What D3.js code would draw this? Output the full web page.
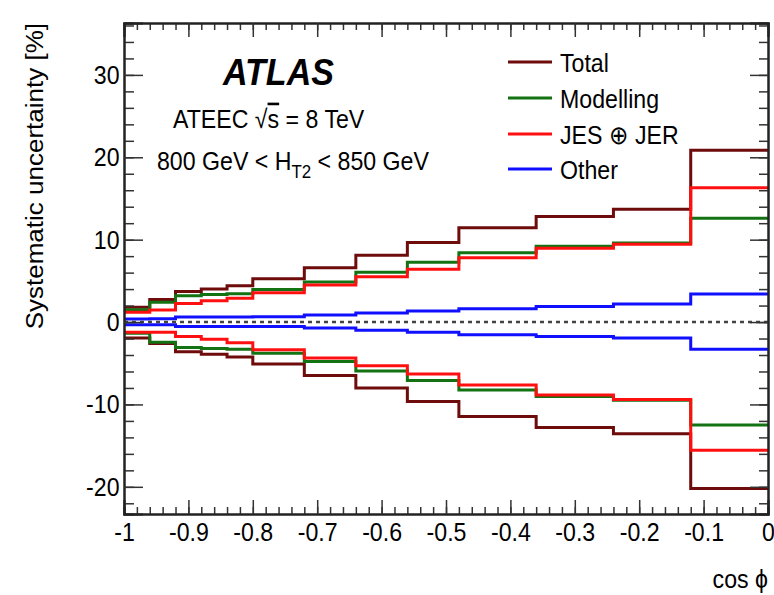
<!DOCTYPE html>
<html>
<head>
<meta charset="utf-8">
<script src="https://cdn.jsdelivr.net/npm/d3@7/dist/d3.min.js"></script>
<style>
  html, body { margin: 0; padding: 0; background: #fff; }
  svg { display: block; }
  text { font-family: "Liberation Sans", Arial, Helvetica, sans-serif; fill: #000; }
</style>
</head>
<body>
<svg id="chart" width="774" height="595"></svg>
<script>
// Bin edges in cos(phi)
const binEdges = [-1, -0.96, -0.92, -0.88, -0.84, -0.80, -0.72, -0.64, -0.56, -0.48, -0.36, -0.24, -0.12, 0];

// Relative systematic uncertainties [%] per bin (up / down variations)
const totalUp     = [1.8, 2.75, 3.7, 4.0, 4.4, 5.25, 6.6, 8.1, 9.65, 11.45, 12.8, 13.7, 20.85];
const totalDown   = [-1.95, -2.6, -3.6, -3.9, -4.25, -5.1, -6.5, -8.0, -9.65, -11.45, -12.8, -13.55, -20.2];
const modelUp     = [1.5, 2.4, 3.2, 3.35, 3.45, 3.95, 4.85, 6.05, 7.25, 8.4, 9.2, 9.6, 12.6];
const modelDown   = [-1.35, -2.45, -3.1, -3.2, -3.3, -3.8, -4.8, -5.95, -7.1, -8.25, -9.05, -9.5, -12.5];
const jesUp       = [1.2, 1.45, 2.25, 2.6, 2.9, 3.55, 4.5, 5.5, 6.4, 7.8, 8.95, 9.45, 16.3];
const jesDown     = [-1.25, -1.25, -1.75, -2.1, -2.5, -3.35, -4.35, -5.3, -6.3, -7.65, -8.85, -9.4, -15.55];
const otherUp     = [0.38, 0.4, 0.62, 0.62, 0.62, 0.65, 0.85, 1.1, 1.35, 1.62, 1.9, 2.2, 3.4];
const otherDown   = [-0.33, -0.33, -0.53, -0.53, -0.53, -0.55, -0.73, -1.0, -1.25, -1.55, -1.75, -1.95, -3.3];

const legendLabels = ["Total", "Modelling", "JES \u2295 JER", "Other"];
const seriesColors = ["#6e0b0b", "#137313", "#ff1010", "#1010ff"];

const xTicks = [-1, -0.9, -0.8, -0.7, -0.6, -0.5, -0.4, -0.3, -0.2, -0.1, 0];
const yTicks = [-20, -10, 0, 10, 20, 30];

const series = [
  { up: totalUp, down: totalDown, color: seriesColors[0] },
  { up: modelUp, down: modelDown, color: seriesColors[1] },
  { up: jesUp,   down: jesDown,   color: seriesColors[2] },
  { up: otherUp, down: otherDown, color: seriesColors[3] }
];

const svg = d3.select("#chart");
const frame = { left: 124, right: 768, top: 23, bottom: 514 };
const squeeze = 0.89;   // horizontal glyph compression of the text
const fs = 26;

const x = d3.scaleLinear().domain([-1, 0]).range([frame.left, frame.right]);
const y = d3.scaleLinear().domain([-23.3, 36.3]).range([frame.bottom, frame.top]);

// Plain hyphen-minus labels
const fmt = d => String(+(+d).toFixed(1));

// Step outline for one histogram
function stepPath(vals) {
  const pts = [];
  vals.forEach((v, i) => {
    pts.push([x(binEdges[i]), y(v)]);
    pts.push([x(binEdges[i + 1]), y(v)]);
  });
  return d3.line()(pts);
}

const plot = svg.append("g");
series.forEach(s => {
  [s.up, s.down].forEach(vals => {
    plot.append("path")
      .attr("d", stepPath(vals))
      .attr("fill", "none")
      .attr("stroke", s.color)
      .attr("stroke-width", 3)
      .attr("stroke-linejoin", "miter");
  });
});

// Dashed zero reference line
plot.append("line")
  .attr("x1", x(-1)).attr("x2", x(0))
  .attr("y1", y(0)).attr("y2", y(0))
  .attr("stroke", "#444")
  .attr("stroke-width", 2.5)
  .attr("stroke-dasharray", "4,4");

// Axes (ticks pointing inwards, on all four sides)
const xMinor = d3.range(0, 51).map(i => -1 + i * 0.02);
const yMinor = d3.range(-22, 37, 2);

function styleAxis(g) {
  g.select(".domain").attr("stroke", "#222").attr("stroke-width", 2);
  g.selectAll(".tick line").attr("stroke", "#333").attr("stroke-width", 1.5);
}

// bottom
svg.append("g").attr("transform", `translate(0,${frame.bottom})`)
  .call(d3.axisBottom(x).tickValues(xMinor).tickSize(-7).tickFormat(""))
  .call(styleAxis);
const xAxisG = svg.append("g").attr("transform", `translate(0,${frame.bottom})`)
  .call(d3.axisBottom(x).tickValues(xTicks).tickSize(-14).tickPadding(9).tickFormat(fmt))
  .call(styleAxis);
xAxisG.selectAll(".tick text")
  .attr("font-size", fs)
  .attr("transform", `scale(${squeeze},1)`);

// top
svg.append("g").attr("transform", `translate(0,${frame.top})`)
  .call(d3.axisTop(x).tickValues(xMinor).tickSize(-7).tickFormat(""))
  .call(styleAxis);
svg.append("g").attr("transform", `translate(0,${frame.top})`)
  .call(d3.axisTop(x).tickValues(xTicks).tickSize(-14).tickFormat(""))
  .call(styleAxis);

// left
svg.append("g").attr("transform", `translate(${frame.left},0)`)
  .call(d3.axisLeft(y).tickValues(yMinor).tickSize(-10).tickFormat(""))
  .call(styleAxis);
const yAxisG = svg.append("g").attr("transform", `translate(${frame.left},0)`)
  .call(d3.axisLeft(y).tickValues(yTicks).tickSize(-19).tickPadding(5).tickFormat(fmt))
  .call(styleAxis);
yAxisG.selectAll(".tick text")
  .attr("font-size", fs)
  .attr("transform", `scale(${squeeze},1)`);

// right
svg.append("g").attr("transform", `translate(${frame.right},0)`)
  .call(d3.axisRight(y).tickValues(yMinor).tickSize(-9).tickFormat(""))
  .call(styleAxis);
svg.append("g").attr("transform", `translate(${frame.right},0)`)
  .call(d3.axisRight(y).tickValues(yTicks).tickSize(-18).tickFormat(""))
  .call(styleAxis);

// Axis titles
svg.append("text")
  .attr("transform", `translate(43,${frame.top}) scale(${squeeze},1) rotate(-90)`)
  .attr("text-anchor", "end")
  .attr("font-size", fs)
  .text("Systematic uncertainty [%]");

svg.append("text")
  .attr("transform", `translate(${frame.right},588) scale(${squeeze},1)`)
  .attr("text-anchor", "end")
  .attr("font-size", fs)
  .text("cos \u03d5");

// ATLAS label and selection text
svg.append("text")
  .attr("transform", `translate(223,85) scale(0.92,1)`)
  .attr("font-size", 37)
  .attr("font-weight", "bold")
  .attr("font-style", "italic")
  .text("ATLAS");

const t1 = svg.append("text")
  .attr("transform", `translate(173,128) scale(${squeeze},1)`)
  .attr("font-size", fs);
t1.append("tspan").text("ATEEC \u221A");
t1.append("tspan").style("text-decoration", "overline").text("s");
t1.append("tspan").text(" = 8 TeV");

const t2 = svg.append("text")
  .attr("transform", `translate(157,170) scale(${squeeze},1)`)
  .attr("font-size", fs);
t2.append("tspan").text("800 GeV < H");
t2.append("tspan").attr("font-size", 19).attr("dy", 8).text("T2");
t2.append("tspan").attr("dy", -8).text(" < 850 GeV");

// Legend
const legendRows = [62, 98, 134, 169];
legendLabels.forEach((lab, i) => {
  const g = svg.append("g");
  g.append("line")
    .attr("x1", 508).attr("x2", 552)
    .attr("y1", legendRows[i]).attr("y2", legendRows[i])
    .attr("stroke", seriesColors[i]).attr("stroke-width", 3);
  g.append("text")
    .attr("transform", `translate(560,${legendRows[i] + 9.5}) scale(${squeeze},1)`)
    .attr("font-size", fs)
    .text(lab);
});
</script>
</body>
</html>
